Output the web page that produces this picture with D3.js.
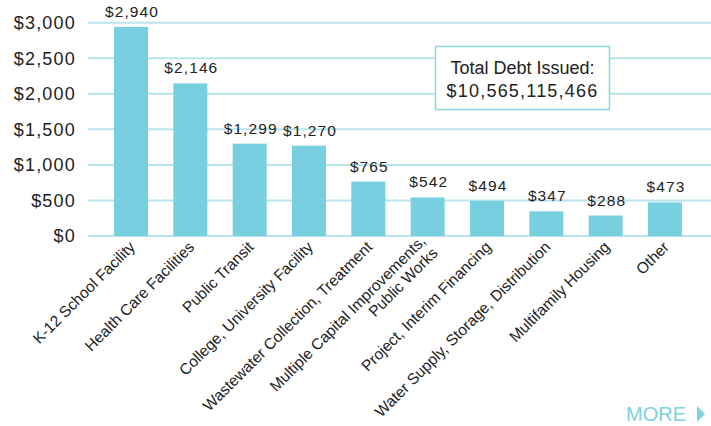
<!DOCTYPE html>
<html>
<head>
<meta charset="utf-8">
<script src="https://cdn.jsdelivr.net/npm/d3@7"></script>
<style>
  body { margin: 0; background: #fff; }
  svg { display: block; font-family: "Liberation Sans", Arial, sans-serif; }
</style>
</head>
<body>
<script>
// data (millions of dollars)
let categories = ["K-12 School Facility", "Health Care Facilities", "Public Transit",
  "College, University Facility", "Wastewater Collection, Treatment",
  "Multiple Capital Improvements,|Public Works", "Project, Interim Financing",
  "Water Supply, Storage, Distribution", "Multifamily Housing", "Other"];
let values = [2940, 2146, 1299, 1270, 765, 542, 494, 347, 288, 473];
let yTicks = [0, 500, 1000, 1500, 2000, 2500, 3000];
let totalLines = ["Total Debt Issued:", "$10,565,115,466"];

let width = 711, height = 426;
let barColor = "#78cfdf", gridColor = "#b8e4ed";

let svg = d3.select("body").append("svg")
  .attr("width", width)
  .attr("height", height);

let x = d3.scaleBand()
  .domain(categories)
  .range([96.2, 699.8])
  .paddingInner(0.427)
  .paddingOuter(0.3);

let y = d3.scaleLinear().domain([0, 3000]).range([236, 22.7]);

let fmt = d3.format("$,");

// gridlines
svg.append("g")
  .selectAll("line")
  .data(yTicks)
  .enter()
  .append("line")
  .attr("x1", 88)
  .attr("x2", width)
  .attr("y1", d => y(d))
  .attr("y2", d => y(d))
  .attr("stroke", gridColor)
  .attr("stroke-width", 2);

// y labels
svg.append("g")
  .selectAll("text")
  .data(yTicks)
  .enter()
  .append("text")
  .attr("x", 76)
  .attr("y", d => y(d))
  .attr("dy", "0.36em")
  .attr("text-anchor", "end")
  .style("font-size", "18px")
  .style("letter-spacing", "1.2px")
  .attr("fill", "#222")
  .text(d => fmt(d));

// bars
svg.append("g")
  .selectAll("rect")
  .data(values)
  .enter()
  .append("rect")
  .attr("x", (d, i) => x(categories[i]))
  .attr("y", d => y(d))
  .attr("width", x.bandwidth())
  .attr("height", d => y(0) - y(d))
  .attr("fill", barColor);

// value labels
svg.append("g")
  .selectAll("text")
  .data(values)
  .enter()
  .append("text")
  .attr("x", (d, i) => x(categories[i]) + x.bandwidth() / 2 + 1)
  .attr("y", d => y(d) - 10)
  .attr("text-anchor", "middle")
  .style("font-size", "15.5px")
  .style("letter-spacing", "1.1px")
  .attr("fill", "#222")
  .text(d => fmt(d));

// category labels, rotated
let labels = svg.append("g")
  .selectAll("text")
  .data(categories)
  .enter()
  .append("text")
  .attr("transform", d => "translate(" + (x(d) + x.bandwidth() / 2 + 5) + ",248) rotate(-45)")
  .attr("text-anchor", "end")
  .style("font-size", "15.5px")
  .attr("fill", "#222");

labels.each(function(d) {
  let parts = d.split("|");
  let t = d3.select(this);
  parts.forEach((p, k) => {
    t.append("tspan")
      .attr("x", 0)
      .attr("y", parts.length > 1 ? (k - 0.5) * 17 : 0)
      .text(p);
  });
});

// total box
let box = svg.append("g");
box.append("rect")
  .attr("x", 435.5)
  .attr("y", 46.5)
  .attr("width", 174)
  .attr("height", 63)
  .attr("fill", "#fff")
  .attr("stroke", "#8fd6e5")
  .attr("stroke-width", 1.5);
box.selectAll("text")
  .data(totalLines)
  .enter()
  .append("text")
  .attr("x", 522.5)
  .attr("y", (d, i) => 74 + i * 23)
  .attr("text-anchor", "middle")
  .style("font-size", "18px")
  .style("letter-spacing", (d, i) => i == 1 ? "1.2px" : "0px")
  .attr("fill", "#222")
  .text(d => d);

// MORE link
svg.append("text")
  .attr("x", 626)
  .attr("y", 421)
  .style("font-size", "20px")
  .attr("fill", "#7ed2e2")
  .text("MORE");
svg.append("path")
  .attr("d", "M697,406 L705,414 L697,422 Z")
  .attr("fill", "#7ed2e2");
</script>
</body>
</html>
